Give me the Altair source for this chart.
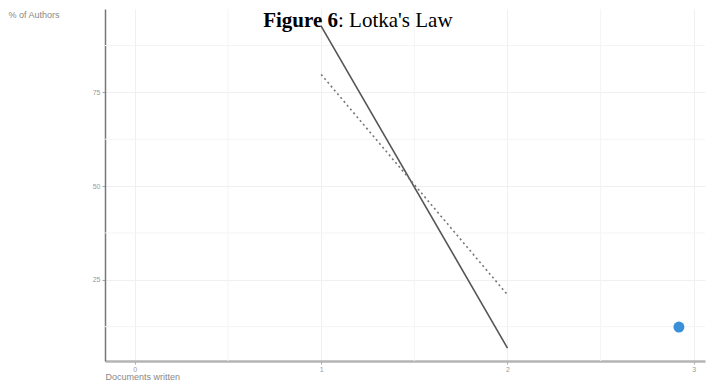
import altair as alt
import pandas as pd

# ---- data ----
docs = [1, 2]
observed = [92.7, 6.8]        # solid line (% of authors)
theoretical = [79.8, 21.0]    # dotted line (Lotka's law estimate)
x_ticks = [0, 1, 2, 3]
y_ticks = [25, 50, 75]
x_minor = [0.5, 1.5, 2.5]
y_minor = [12.5, 37.5, 62.5, 87.5]
logo_x = [2.92]
logo_y = [12.4]
title_bold = "Figure 6"
title_rest = ": Lotka's Law"

obs_df = pd.DataFrame({"docs": docs, "pct": observed})
theo_df = pd.DataFrame({"docs": docs, "pct": theoretical})
logo_df = pd.DataFrame({"docs": logo_x, "pct": logo_y})
xminor_df = pd.DataFrame({"docs": x_minor})
yminor_df = pd.DataFrame({"pct": y_minor})

xscale = alt.Scale(domain=[-0.16, 3.06], nice=False, zero=False)
yscale = alt.Scale(domain=[3.34, 97.25], nice=False, zero=False)

xaxis = alt.Axis(
    values=x_ticks, format="d", title="Documents written",
    grid=True, gridColor="#f0f0f0",
    domainColor="#b4b4b4", domainWidth=2.5,
    tickColor="#aaaaaa", tickSize=3,
    labelColor="#999999", labelFontSize=7, labelPadding=1,
    titleColor="#888888", titleFontSize=9, titleFontWeight="normal",
    titleAlign="left", titleAnchor="start", titleX=0, titleY=15,
    titleBaseline="middle",
)
yaxis = alt.Axis(
    values=y_ticks, format="d", title="% of Authors",
    grid=True, gridColor="#f0f0f0",
    domainColor="#777777", domainWidth=1.5,
    tickColor="#aaaaaa", tickSize=3,
    labelColor="#999999", labelFontSize=7, labelPadding=2,
    titleColor="#888888", titleFontSize=9, titleFontWeight="normal",
    titleAngle=0, titleAlign="left", titleX=-97, titleY=5,
    titleBaseline="middle",
)

xminor = alt.Chart(xminor_df).mark_rule(color="#f4f4f4", strokeWidth=1).encode(
    x=alt.X("docs:Q", scale=xscale)
)
yminor = alt.Chart(yminor_df).mark_rule(color="#f4f4f4", strokeWidth=1).encode(
    y=alt.Y("pct:Q", scale=yscale)
)

obs = alt.Chart(obs_df).mark_line(color="#555555", strokeWidth=1.6).encode(
    x=alt.X("docs:Q", scale=xscale, axis=xaxis),
    y=alt.Y("pct:Q", scale=yscale, axis=yaxis),
)
theo = alt.Chart(theo_df).mark_line(color="#777777", strokeWidth=1.6, strokeDash=[2, 3]).encode(
    x=alt.X("docs:Q", scale=xscale),
    y=alt.Y("pct:Q", scale=yscale),
)
logo = alt.Chart(logo_df).mark_circle(color="#3b8ed8", size=120, opacity=1).encode(
    x=alt.X("docs:Q", scale=xscale),
    y=alt.Y("pct:Q", scale=yscale),
)

t1 = alt.Chart(pd.DataFrame({"t": [title_bold]})).mark_text(
    font="Liberation Serif", fontSize=21, fontWeight="bold", align="right",
    baseline="alphabetic", color="#000000"
).encode(x=alt.value(233), y=alt.value(18), text="t:N")
t2 = alt.Chart(pd.DataFrame({"t": [title_rest]})).mark_text(
    font="Liberation Serif", fontSize=21, fontWeight="normal", align="left",
    baseline="alphabetic", color="#000000"
).encode(x=alt.value(233), y=alt.value(18), text="t:N")

chart = alt.layer(xminor, yminor, obs, theo, logo, t1, t2).properties(
    width=600, height=352,
    padding={"left": 97, "top": 1, "right": 3, "bottom": 19},
    autosize="none",
    background="white",
).configure(
    font="Liberation Sans",
    view=alt.ViewConfig(stroke="transparent", strokeWidth=0),
)

chart.save("out.html", embed_options={"renderer": "svg", "actions": False})
